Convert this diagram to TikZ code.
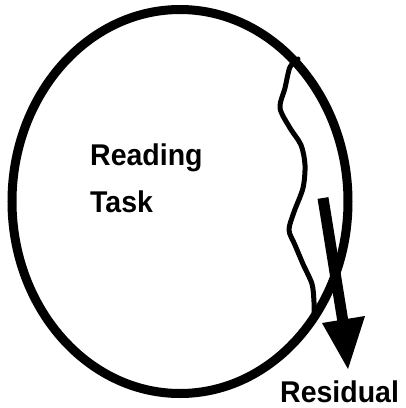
\documentclass[tikz,border=0pt]{standalone}
\usepackage{fontspec}
\setmainfont{Liberation Sans}
\begin{document}
\begin{tikzpicture}[x=1pt,y=-1pt,
  lbl/.style={font=\fontsize{30}{30}\selectfont\bfseries, xscale=0.95, inner sep=0pt, anchor=base west},
  ring/.style={draw=black, line width=9pt},
  wave/.style={draw=black, line width=5pt, line join=round, line cap=round}]
\useasboundingbox (0,0) rectangle (406,408);
\draw[ring] (180,201.5) ellipse [x radius=168, y radius=192];
\draw[wave] plot[smooth, tension=0.5] coordinates {(298,59) (290,67) (285,88) (280,108) (290,128) (301,145) (305,165) (303,188) (294,212) (289,230) (295,245) (303,264) (312,284) (314,302) (314,313)};
\coordinate (s1) at (323,198);
\coordinate (s2) at (343,322);
\draw[line width=11pt] (s1) -- (s2);
\fill (322,323) -- (365,316) -- (348,369) -- cycle;
\node[lbl] (reading) at (90,165) {Reading};
\node[lbl] (task) at (90,212) {Task};
\node[lbl] (residual) at (280,402) {Residual};
\end{tikzpicture}
\end{document}
